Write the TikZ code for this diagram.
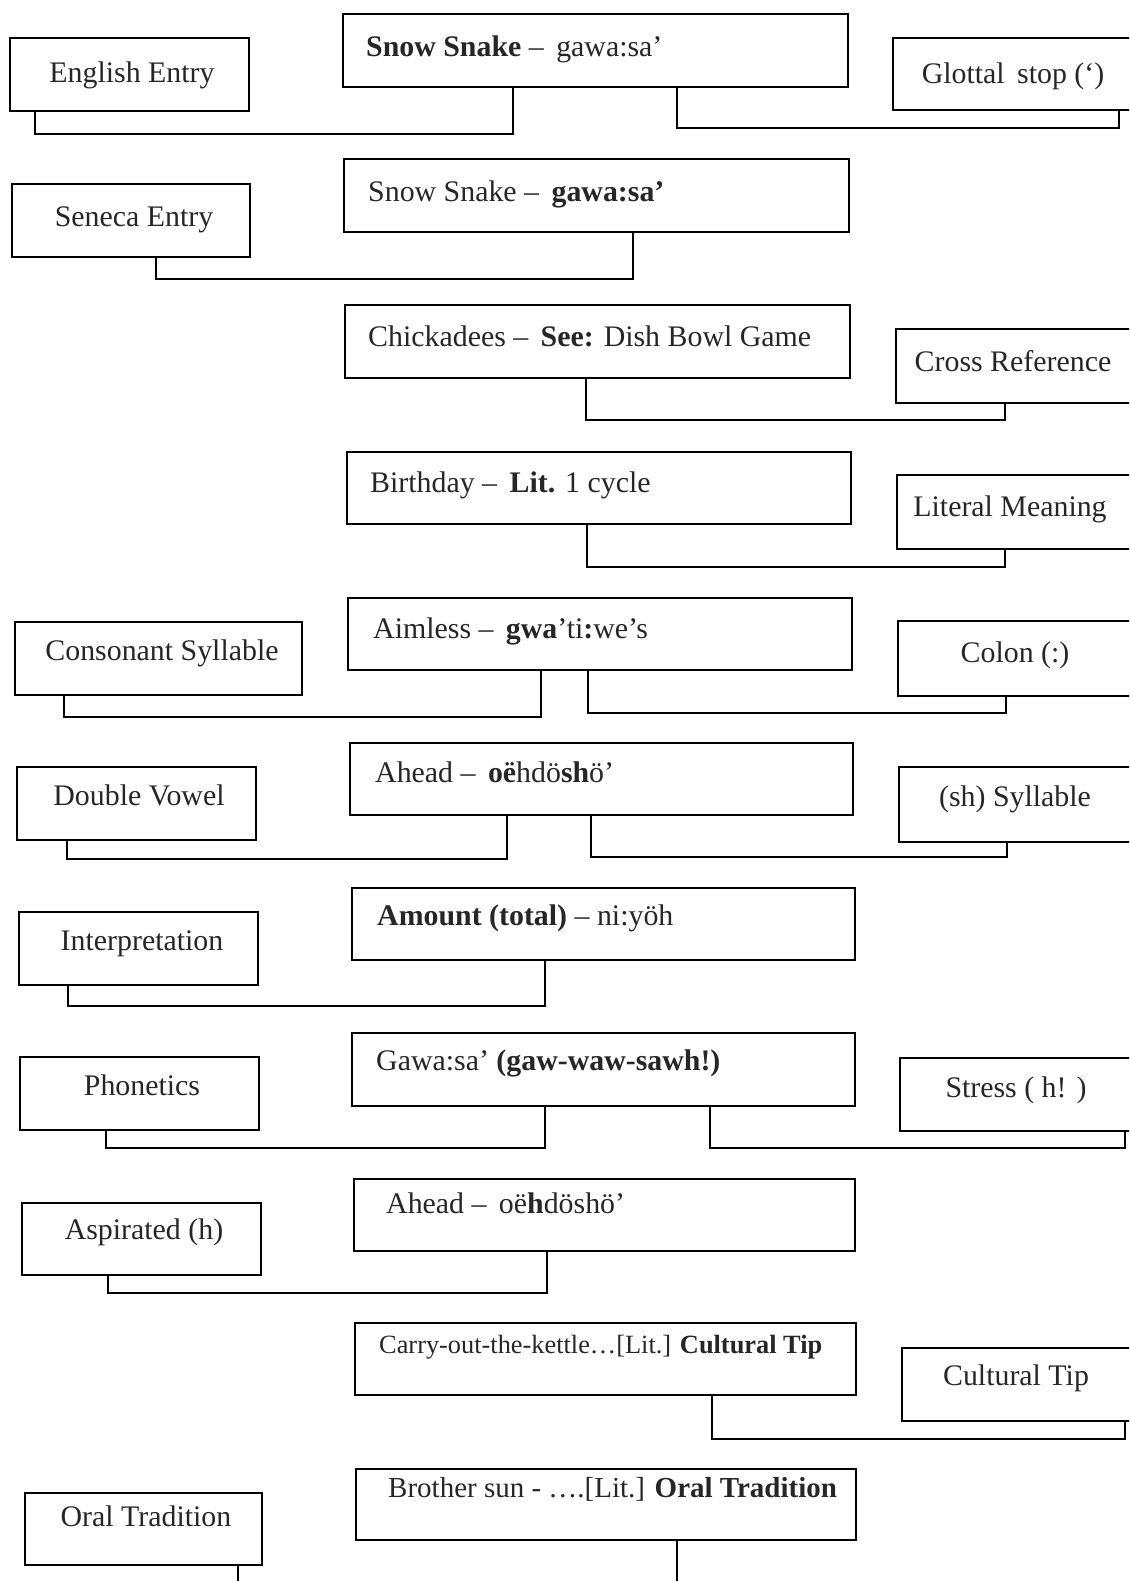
\documentclass[tikz,border=0pt]{standalone}
\usepackage{fontspec}
\setmainfont{Liberation Serif}
\usepackage{tikz}
\usetikzlibrary{positioning,fit}

\begin{document}
\begin{tikzpicture}[box/.style={draw,line width=1pt,inner sep=0pt},
  txt/.style={anchor=base,text=black!85,font=\fontsize{17}{20}\selectfont},
  midtxt/.style={txt,anchor=base west},
  wire/.style={line width=1pt}]\begin{scope}[x=0.02cm,y=-0.02cm]
\useasboundingbox (0,0) rectangle (1129,1581);
\clip (0,0) rectangle (1129,1581);
% left column
\node[box,fit={(10,38)(249,111)}] (eng) {};
\node[box,fit={(12,184)(250,257)}] (sen) {};
\node[box,fit={(15,622)(302,695)}] (cons) {};
\node[box,fit={(17,767)(256,840)}] (dbl) {};
\node[box,fit={(19,912)(258,985)}] (interp) {};
\node[box,fit={(20,1057)(259,1130)}] (phon) {};
\node[box,fit={(22,1203)(261,1275)}] (asp) {};
\node[box,fit={(25,1493)(262,1565)}] (oral) {};
\draw(132,83) node[txt] (engT) {English Entry};
\draw(134,227) node[txt] (senT) {Seneca Entry};
\draw(162,660) node[txt] (consT) {Consonant Syllable};
\draw(139,805) node[txt] (dblT) {Double Vowel};
\draw(142,950) node[txt] (interpT) {Interpretation};
\draw(142,1095) node[txt] (phonT) {Phonetics};
\draw(144,1239) node[txt] (aspT) {Aspirated (h)};
\draw(146,1526) node[txt] (oralT) {Oral Tradition};
% middle column
\node[box,fit={(343,14)(848,87)}] (snowA) {};
\node[box,fit={(344,159)(849,232)}] (snowB) {};
\node[box,fit={(345,305)(850,378)}] (chick) {};
\node[box,fit={(347,452)(851,524)}] (birth) {};
\node[box,fit={(348,598)(852,670)}] (aim) {};
\node[box,fit={(350,743)(853,815)}] (aheadA) {};
\node[box,fit={(352,888)(855,960)}] (amt) {};
\node[box,fit={(352,1033)(855,1106)}] (gawa) {};
\node[box,fit={(354,1179)(855,1251)}] (aheadB) {};
\node[box,fit={(355,1323)(856,1395)}] (carry) {};
\node[box,fit={(356,1469)(856,1540)}] (bro) {};
\draw(360,57) node[midtxt] (snowAT) {\textbf{Snow Snake} –\, gawa:sa’};
\draw(362,202) node[midtxt] (snowBT) {Snow Snake –\, \textbf{gawa:sa’}};
\draw(362,346) node[midtxt] (chickT) {Chickadees –\, \textbf{See:} Dish Bowl Game};
\draw(364,492) node[midtxt] (birthT) {Birthday –\, \textbf{Lit.} 1 cycle};
\draw(367,638) node[midtxt] (aimT) {Aimless –\, \textbf{gwa}’ti\textbf{:}we’s};
\draw(369,782) node[midtxt] (aheadAT) {Ahead –\, \textbf{oë}hdö\textbf{sh}ö’};
\draw(371,925) node[midtxt] (amtT) {\textbf{Amount (total)} – ni:yöh};
\draw(370,1070) node[midtxt] (gawaT) {Gawa:sa’ \textbf{(gaw-waw-sawh!)}};
\draw(380,1213) node[midtxt] (aheadBT) {Ahead –\, oë\textbf{h}döshö’};
\draw(373,1353) node[midtxt,font=\fontsize{15}{18}\selectfont] (carryT) {Carry-out-the-kettle…[Lit.] \textbf{Cultural Tip}};
\draw(382,1497) node[midtxt,font=\fontsize{16.5}{19}\selectfont] (broT) {Brother sun - ….[Lit.] \textbf{Oral Tradition}};
% right column
\node[box,fit={(893,38)(1140,110)}] (glot) {};
\node[box,fit={(896,329)(1140,403)}] (cross) {};
\node[box,fit={(897,475)(1140,549)}] (litm) {};
\node[box,fit={(898,621)(1140,696)}] (colon) {};
\node[box,fit={(899,767)(1140,842)}] (shs) {};
\node[box,fit={(900,1058)(1140,1131)}] (stress) {};
\node[box,fit={(902,1348)(1140,1421)}] (cult) {};
\draw(1013,84) node[txt] (glotT) {Glottal\, stop (‘)};
\draw(1013,371) node[txt] (crossT) {Cross Reference};
\draw(1010,516) node[txt] (litmT) {Literal Meaning};
\draw(1015,662) node[txt] (colonT) {Colon (:)};
\draw(1015,806) node[txt] (shsT) {(sh) Syllable};
\draw(1016,1097) node[txt] (stressT) {Stress ( h! )};
\draw(1016,1385) node[txt] (cultT) {Cultural Tip};
% connectors
\draw[wire] (eng.south -| 35,0) |- (513,134) -- (snowA.south -| 513,0);
\draw[wire] (snowA.south -| 677,0) |- (1119,128) -- (glot.south -| 1119,0);
\draw[wire] (sen.south -| 156,0) |- (633,279) -- (snowB.south -| 633,0);
\draw[wire] (chick.south -| 586,0) |- (1005,420) -- (cross.south -| 1005,0);
\draw[wire] (birth.south -| 587,0) |- (1005,567) -- (litm.south -| 1005,0);
\draw[wire] (cons.south -| 64,0) |- (541,717) -- (aim.south -| 541,0);
\draw[wire] (aim.south -| 588,0) |- (1006,713) -- (colon.south -| 1006,0);
\draw[wire] (dbl.south -| 67,0) |- (507,859) -- (aheadA.south -| 507,0);
\draw[wire] (aheadA.south -| 591,0) |- (1007,857) -- (shs.south -| 1007,0);
\draw[wire] (interp.south -| 68,0) |- (545,1006) -- (amt.south -| 545,0);
\draw[wire] (phon.south -| 106,0) |- (545,1148) -- (gawa.south -| 545,0);
\draw[wire] (gawa.south -| 710,0) |- (1125,1148) -- (stress.south -| 1125,0);
\draw[wire] (asp.south -| 108,0) |- (547,1293) -- (aheadB.south -| 547,0);
\draw[wire] (carry.south -| 712,0) |- (1125,1439) -- (cult.south -| 1125,0);
\coordinate (oralEnd) at (238,1600);
\coordinate (broEnd) at (677,1600);
\draw[wire] (oral.south -| oralEnd) -- (oralEnd);
\draw[wire] (bro.south -| broEnd) -- (broEnd);
\end{scope}\end{tikzpicture}
\end{document}
